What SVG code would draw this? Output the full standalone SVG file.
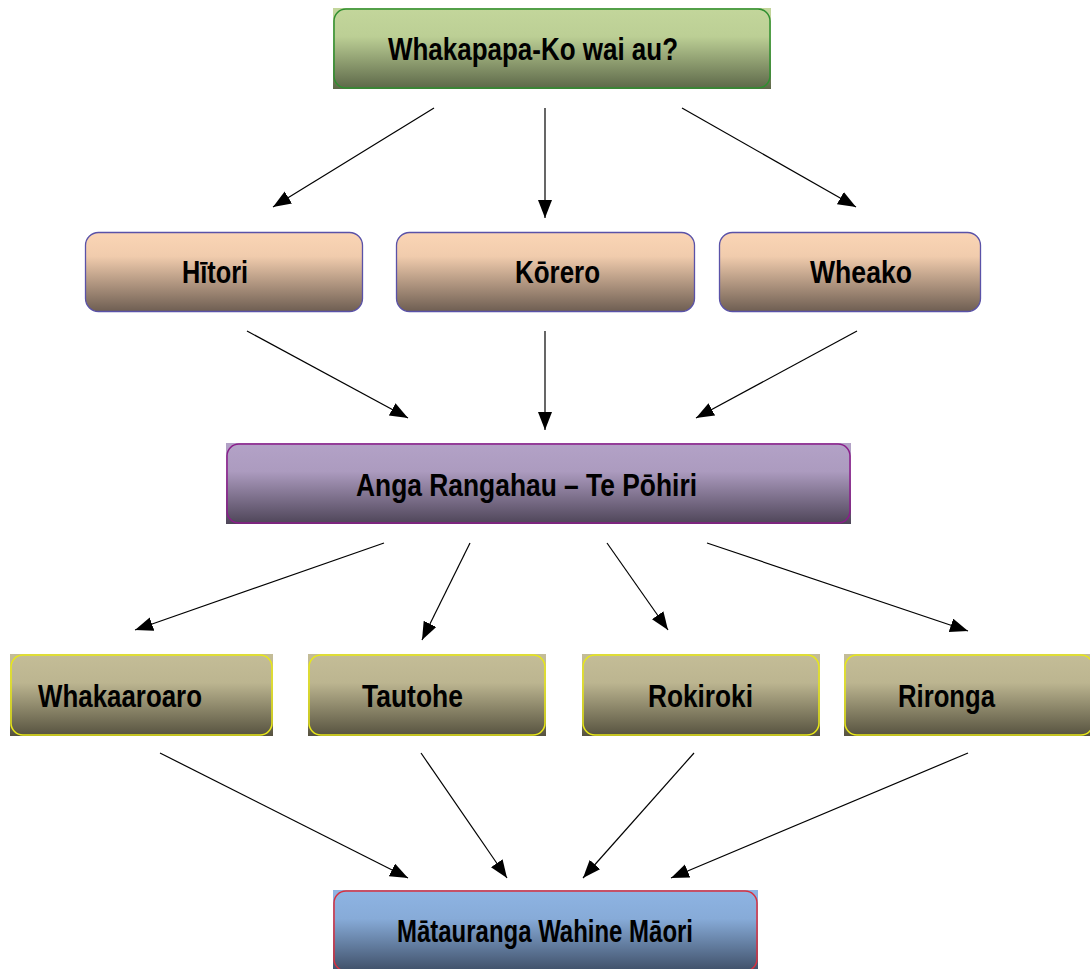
<svg xmlns="http://www.w3.org/2000/svg" width="1090" height="969" viewBox="0 0 1090 969">
<defs>
<linearGradient id="gGreen" x1="0" y1="0" x2="0" y2="1"><stop offset="0" stop-color="#c3d69b"/><stop offset="0.35" stop-color="#bccf95"/><stop offset="1" stop-color="#5c6748"/></linearGradient>
<linearGradient id="gPeach" x1="0" y1="0" x2="0" y2="1"><stop offset="0" stop-color="#fbd5b5"/><stop offset="0.3" stop-color="#f1ccad"/><stop offset="1" stop-color="#6e5e52"/></linearGradient>
<linearGradient id="gPurple" x1="0" y1="0" x2="0" y2="1"><stop offset="0" stop-color="#b3a2c7"/><stop offset="0.35" stop-color="#ac9bbf"/><stop offset="1" stop-color="#4e4558"/></linearGradient>
<linearGradient id="gOlive" x1="0" y1="0" x2="0" y2="1"><stop offset="0" stop-color="#c4bd97"/><stop offset="0.35" stop-color="#bcb590"/><stop offset="1" stop-color="#56523f"/></linearGradient>
<linearGradient id="gBlue" x1="0" y1="0" x2="0" y2="1"><stop offset="0" stop-color="#8eb4e3"/><stop offset="0.35" stop-color="#87abd8"/><stop offset="1" stop-color="#3e4e66"/></linearGradient>
<marker id="arr" markerUnits="userSpaceOnUse" markerWidth="19" markerHeight="15" refX="18" refY="7" orient="auto"><path d="M0,0 L18,7 L0,14 z" fill="#000"/></marker>
</defs>
<style>
.lbl{font-family:"Liberation Sans Narrow","Arial Narrow","Liberation Sans",sans-serif;font-weight:bold;font-size:32px;fill:#000}
.c{stroke:#000;stroke-width:1.2;fill:none;marker-end:url(#arr)}
</style>
<rect width="1090" height="969" fill="#fff"/>
<g id="n-whakapapa">
<rect x="333" y="8" width="438" height="81" fill="url(#gGreen)"/>
<rect x="334" y="9" width="436" height="79" rx="12" fill="none" stroke="#2f8f2f" stroke-width="1.5"/>
<text class="lbl" x="388" y="60" textLength="290" lengthAdjust="spacingAndGlyphs">Whakapapa-Ko wai au?</text>
</g>
<g id="n-hitori">
<rect x="85.5" y="232.5" width="277" height="79" rx="13" fill="url(#gPeach)" stroke="#5a52a8" stroke-width="1.3"/>
<text class="lbl" x="182" y="283" textLength="66" lengthAdjust="spacingAndGlyphs">Hītori</text>
</g>
<g id="n-korero">
<rect x="396.5" y="232.5" width="298" height="79" rx="13" fill="url(#gPeach)" stroke="#5a52a8" stroke-width="1.3"/>
<text class="lbl" x="515" y="283" textLength="85" lengthAdjust="spacingAndGlyphs">Kōrero</text>
</g>
<g id="n-wheako">
<rect x="719.5" y="232.5" width="261" height="79" rx="13" fill="url(#gPeach)" stroke="#5a52a8" stroke-width="1.3"/>
<text class="lbl" x="810" y="283" textLength="102" lengthAdjust="spacingAndGlyphs">Wheako</text>
</g>
<g id="n-anga">
<rect x="226" y="443" width="625" height="81" fill="url(#gPurple)"/>
<rect x="227" y="444" width="623" height="79" rx="12" fill="none" stroke="#8a1d8a" stroke-width="1.5"/>
<text class="lbl" x="356" y="496" textLength="341" lengthAdjust="spacingAndGlyphs">Anga Rangahau – Te Pōhiri</text>
</g>
<g id="n-whakaaroaro">
<rect x="10" y="654" width="263" height="82" fill="url(#gOlive)"/>
<rect x="11" y="655" width="261" height="80" rx="12" fill="none" stroke="#e8e817" stroke-width="1.5"/>
<text class="lbl" x="38" y="707" textLength="164" lengthAdjust="spacingAndGlyphs">Whakaaroaro</text>
</g>
<g id="n-tautohe">
<rect x="308" y="654" width="238" height="82" fill="url(#gOlive)"/>
<rect x="309" y="655" width="236" height="80" rx="12" fill="none" stroke="#e8e817" stroke-width="1.5"/>
<text class="lbl" x="362" y="707" textLength="101" lengthAdjust="spacingAndGlyphs">Tautohe</text>
</g>
<g id="n-rokiroki">
<rect x="582" y="654" width="238" height="82" fill="url(#gOlive)"/>
<rect x="583" y="655" width="236" height="80" rx="12" fill="none" stroke="#e8e817" stroke-width="1.5"/>
<text class="lbl" x="648" y="707" textLength="105" lengthAdjust="spacingAndGlyphs">Rokiroki</text>
</g>
<g id="n-rironga">
<rect x="844" y="654" width="250" height="82" fill="url(#gOlive)"/>
<rect x="845" y="655" width="248" height="80" rx="12" fill="none" stroke="#e8e817" stroke-width="1.5"/>
<text class="lbl" x="898" y="707" textLength="97" lengthAdjust="spacingAndGlyphs">Rironga</text>
</g>
<g id="n-matauranga">
<rect x="333" y="890" width="425" height="82" fill="url(#gBlue)"/>
<rect x="334" y="891" width="423" height="80" rx="12" fill="none" stroke="#d8303f" stroke-width="1.5"/>
<text class="lbl" x="397" y="942" textLength="296" lengthAdjust="spacingAndGlyphs">Mātauranga Wahine Māori</text>
</g>
<g id="connectors">
<line class="c" x1="434" y1="108" x2="273" y2="207"/>
<line class="c" x1="545" y1="108" x2="545" y2="218"/>
<line class="c" x1="682" y1="108" x2="856" y2="207"/>
<line class="c" x1="247" y1="331" x2="408" y2="418"/>
<line class="c" x1="545" y1="331" x2="545" y2="430"/>
<line class="c" x1="857" y1="331" x2="696" y2="418"/>
<line class="c" x1="384" y1="543" x2="135" y2="630"/>
<line class="c" x1="470" y1="543" x2="422" y2="640"/>
<line class="c" x1="607" y1="543" x2="668" y2="630"/>
<line class="c" x1="707" y1="543" x2="968" y2="631"/>
<line class="c" x1="160" y1="753" x2="408" y2="878"/>
<line class="c" x1="421" y1="753" x2="507" y2="878"/>
<line class="c" x1="694" y1="753" x2="583" y2="878"/>
<line class="c" x1="968" y1="753" x2="671" y2="878"/>
</g>
</svg>
